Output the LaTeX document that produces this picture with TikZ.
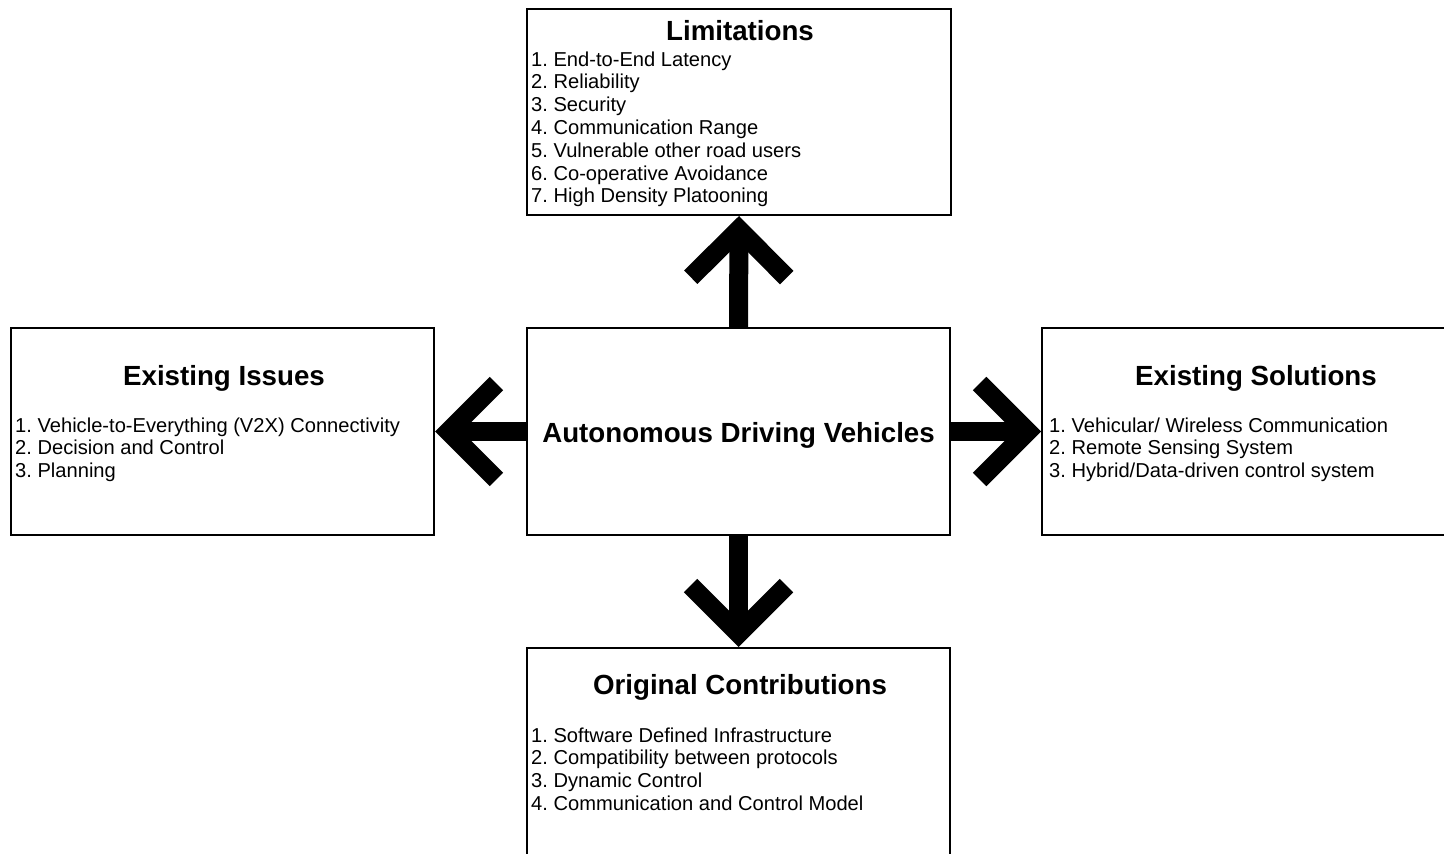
\documentclass[tikz,border=0pt]{standalone}
\usepackage{fontspec}
\setmainfont{Liberation Sans}
\usetikzlibrary{arrows.meta}
\frenchspacing
\begin{document}
\begin{tikzpicture}[x=1bp,y=-1bp,
  box/.style={draw=black, line width=2bp, minimum width=423bp, minimum height=207bp,
              inner sep=0pt, fill=white},
  heading/.style={font=\fontsize{27.8}{32}\selectfont\bfseries, inner sep=0pt, anchor=base},
  entry/.style={font=\fontsize{20.2}{22.8}\selectfont, inner sep=0pt, anchor=base west},
  bigarrow/.style={line width=19bp, -{Straight Barb[sharp, length=48bp, width=96bp]}},
]
\useasboundingbox (0,0) rectangle (1444,853);
\clip (0,0) rectangle (1444,853);

% boxes
\node[box, minimum width=424bp, minimum height=206bp] (lim) at (739,112) {};
\node[box] (adv) at (738.5,431.5) {};
\node[box] (iss) at (222.5,431.5) {};
\node[box] (sol) at (1253.5,431.5) {};
\node[box] (con) at (738.5,751.5) {};

% centre
\node[heading] (advt) at (738.5,442) {Autonomous Driving Vehicles};

% limitations
\node[heading] (limt) at (740,40) {Limitations};
\foreach \t [count=\i] in {1. End-to-End Latency, 2. Reliability, 3. Security,
    4. Communication Range, 5. Vulnerable other road users,
    6. Co-operative Avoidance, 7. High Density Platooning}
  \node[entry] (lim\i) at (531,{66+22.8*(\i-1)}) {\t};

% existing issues
\node[heading] (isst) at (224,385) {Existing Issues};
\foreach \t [count=\i] in {1. Vehicle-to-Everything (V2X) Connectivity,
    2. Decision and Control, 3. Planning}
  \node[entry] (iss\i) at (15,{432+22.8*(\i-1)}) {\t};

% existing solutions
\node[heading] (solt) at (1256,385) {Existing Solutions};
\foreach \t [count=\i] in {1. Vehicular/ Wireless Communication,
    2. Remote Sensing System, 3. Hybrid/Data-driven control system}
  \node[entry] (sol\i) at (1049,{432+22.8*(\i-1)}) {\t};

% original contributions
\node[heading] (cont) at (740,694) {Original Contributions};
\foreach \t [count=\i] in {1. Software Defined Infrastructure,
    2. Compatibility between protocols, 3. Dynamic Control,
    4. Communication and Control Model}
  \node[entry] (con\i) at (531,{742+22.8*(\i-1)}) {\t};

% arrows
\draw[bigarrow] (adv.north) -- (lim.south);
\draw[bigarrow] (adv.west) -- (iss.east);
\draw[bigarrow] (adv.east) -- (sol.west);
\draw[bigarrow] (adv.south) -- (con.north);
\end{tikzpicture}
\end{document}
